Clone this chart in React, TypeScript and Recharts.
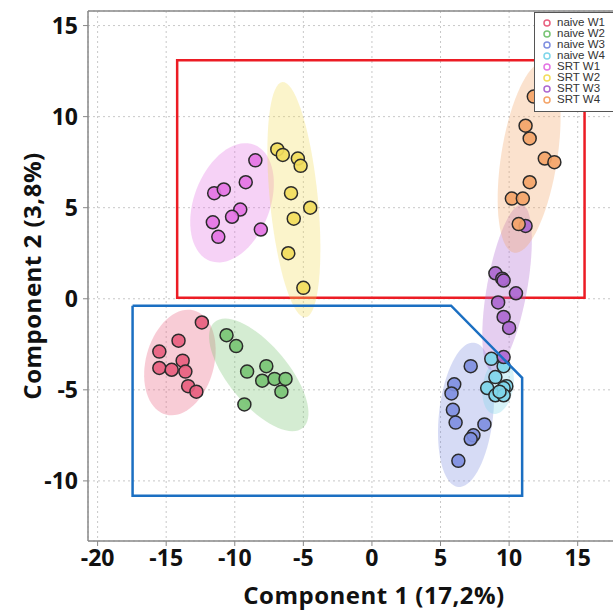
import React from "react";
import {
  ScatterChart,
  Scatter,
  XAxis,
  YAxis,
  CartesianGrid,
  ReferenceArea,
  ReferenceLine,
} from "recharts";

type Pair = [number, number];

const xTicks = [-20, -15, -10, -5, 0, 5, 10, 15];
const yTicks = [-10, -5, 0, 5, 10, 15];

const groupNames = ["naive W1", "naive W2", "naive W3", "naive W4", "SRT W1", "SRT W2", "SRT W3", "SRT W4"];
const groupColors = ["#e8607f", "#78c474", "#7f8fe0", "#7fd6ea", "#e474e4", "#f2dc5c", "#ad68d0", "#f4a468"];

// sample scores (Component 1, Component 2)
const naiveW1: Pair[] = [[-12.4, -1.3], [-14.1, -2.3], [-15.5, -2.9], [-13.8, -3.4], [-15.5, -3.8], [-14.6, -3.9], [-13.6, -4.0], [-13.4, -4.8], [-12.8, -5.1]];
const naiveW2: Pair[] = [[-10.6, -2.0], [-9.9, -2.6], [-9.1, -4.0], [-7.7, -3.7], [-8.0, -4.5], [-7.1, -4.4], [-6.3, -4.4], [-6.6, -5.1], [-9.3, -5.8]];
const naiveW3: Pair[] = [[7.2, -3.7], [6.0, -4.7], [5.8, -5.2], [5.9, -6.1], [6.1, -6.8], [8.2, -6.9], [7.4, -7.5], [7.2, -7.7], [6.3, -8.9]];
const naiveW4: Pair[] = [[8.7, -3.3], [9.6, -3.7], [9.0, -4.3], [8.4, -4.9], [9.0, -5.3], [9.8, -4.8], [9.6, -4.9], [9.6, -5.3], [9.3, -5.1]];
const srtW1: Pair[] = [[-8.5, 7.6], [-9.2, 6.4], [-11.5, 5.8], [-10.8, 6.0], [-9.6, 4.9], [-10.2, 4.5], [-11.6, 4.2], [-11.2, 3.4], [-8.1, 3.8]];
const srtW2: Pair[] = [[-6.9, 8.2], [-6.5, 7.9], [-5.4, 7.7], [-5.2, 7.3], [-5.9, 5.8], [-4.5, 5.0], [-5.7, 4.4], [-6.1, 2.5], [-5.0, 0.6]];
const srtW3: Pair[] = [[11.2, 4.0], [9.0, 1.4], [9.5, 1.1], [9.6, 1.0], [10.5, 0.3], [9.2, -0.2], [9.6, -1.0], [10.0, -1.6], [9.6, -3.2]];
const srtW4: Pair[] = [[11.8, 11.1], [11.2, 9.5], [11.5, 8.8], [12.6, 7.7], [13.3, 7.5], [11.5, 6.4], [10.2, 5.5], [11.0, 5.5], [10.7, 4.1]];
const groupPoints = [naiveW1, naiveW2, naiveW3, naiveW4, srtW1, srtW2, srtW3, srtW4];

// ellipses: center x, center y, half-axis a (x, y), half-axis b (x, y), in data units
const groupEllipses = [
  [-14.0, -3.5, 1.02, 2.86, 2.4, -0.48],
  [-8.25, -4.18, 3.21, -2.91, -1.68, -1.04],
  [6.86, -6.37, 0.58, 3.96, 1.96, -0.16],
  [9.2, -4.78, 0.36, 1.54, 1.09, -0.15],
  [-10.2, 5.27, 1.61, 3.19, 2.59, -0.74],
  [-5.69, 5.44, -0.84, 6.46, 1.74, 0.13],
  [9.85, 0.6, 1.09, 4.56, 1.44, -0.2],
  [11.46, 7.75, 1.09, 5.22, 2.02, -0.24],
];

// highlight boxes
const redBox = { x1: -14.2, x2: 15.5, y1: 0.05, y2: 13.1 };
const bluePoly: Pair[] = [[-17.45, -0.38], [5.77, -0.38], [10.95, -4.34], [10.95, -10.82], [-17.45, -10.82], [-17.45, -0.38]];

const toXY = (arr: Pair[]) => arr.map(([x, y]) => ({ x, y }));

function ellipsePoints(e: number[]) {
  const [cx, cy, ax, ay, bx, by] = e;
  const pts = [];
  for (let i = 0; i <= 72; i++) {
    const t = (i / 72) * Math.PI * 2;
    pts.push({ x: cx + Math.cos(t) * ax + Math.sin(t) * bx, y: cy + Math.cos(t) * ay + Math.sin(t) * by });
  }
  return pts;
}

const titleFont = "Open Sans, sans-serif";
const tickStyle = { fontSize: 23, fontWeight: 700, fill: "#111", fontFamily: titleFont };
const titleStyle = { fontSize: 24, fontWeight: 700, fill: "#111", fontFamily: titleFont, letterSpacing: 0.5 };

export default function App() {
  return (
    <div style={{ position: "absolute", left: 0, top: 0, width: 613, height: 615, overflow: "hidden", background: "#fff" }}>
      <ScatterChart width={670} height={615} margin={{ top: 11, right: 10, bottom: 44, left: 0 }}>
        <CartesianGrid stroke="#c8c8c8" strokeDasharray="2 3" />
        <XAxis
          type="number"
          dataKey="x"
          domain={[-20.7, 21]}
          ticks={xTicks}
          allowDataOverflow
          tick={tickStyle}
          tickSize={5}
          tickMargin={4}
          tickLine={{ stroke: "#888" }}
          axisLine={{ stroke: "#888", strokeWidth: 1.5 }}
          height={30}
          label={{
            value: "Component 1 (17,2%)",
            position: "bottom",
            offset: 16,
            style: titleStyle,
          }}
        />
        <YAxis
          type="number"
          dataKey="y"
          domain={[-13.3, 15.8]}
          ticks={yTicks}
          allowDataOverflow
          width={88}
          tick={tickStyle}
          tickSize={5}
          tickMargin={5}
          tickLine={{ stroke: "#888" }}
          axisLine={{ stroke: "#888", strokeWidth: 1.5 }}
          label={{
            content: (p: any) => {
              const vb = p.viewBox;
              const cy = vb.y + vb.height / 2;
              return (
                <text
                  x={31}
                  y={cy}
                  transform={`rotate(-90, 31, ${cy})`}
                  textAnchor="middle"
                  dominantBaseline="central"
                  style={titleStyle}
                >
                  Component 2 (3,8%)
                </text>
              );
            },
          }}
        />
        <ReferenceLine y={15.8} stroke="#888" strokeWidth={1.5} />
        {groupEllipses.map((e, i) => (
          <Scatter
            key={`ell-${i}`}
            data={ellipsePoints(e)}
            line={{ stroke: "none", fill: groupColors[i], fillOpacity: 0.32 }}
            shape={() => <g />}
            legendType="none"
            isAnimationActive={false}
          />
        ))}
        {groupPoints.map((pts, i) => (
          <Scatter
            key={groupNames[i]}
            name={groupNames[i]}
            data={toXY(pts)}
            isAnimationActive={false}
            shape={(p: any) => (
              <circle cx={p.cx} cy={p.cy} r={6.5} fill={groupColors[i]} fillOpacity={0.92} stroke="#2b2b2b" strokeWidth={1.5} />
            )}
          />
        ))}
        <ReferenceArea
          x1={redBox.x1}
          x2={redBox.x2}
          y1={redBox.y1}
          y2={redBox.y2}
          fill="none"
          stroke="#ec1c24"
          strokeWidth={2.5}
          fillOpacity={0}
        />
        <Scatter
          data={toXY(bluePoly)}
          line={{ stroke: "#1b6fc2", strokeWidth: 2.5, fill: "none" }}
          shape={() => <g />}
          legendType="none"
          isAnimationActive={false}
        />
      </ScatterChart>
      <div
        style={{
          position: "absolute",
          left: 534,
          top: 12,
          width: 90,
          height: 100,
          border: "1.5px solid #555",
          background: "#fff",
          boxSizing: "border-box",
          padding: "4px 0 0 7px",
          fontFamily: "Liberation Sans, Arial, sans-serif",
          fontSize: 11.5,
          color: "#333",
        }}
      >
        {groupNames.map((n, i) => (
          <div key={n} style={{ display: "flex", alignItems: "center", height: 11, lineHeight: "11px" }}>
            <svg width={12} height={10} style={{ marginRight: 3 }}>
              <circle cx={5} cy={5} r={3} fill="none" stroke={groupColors[i]} strokeWidth={1.5} />
            </svg>
            <span>{n}</span>
          </div>
        ))}
      </div>
    </div>
  );
}
